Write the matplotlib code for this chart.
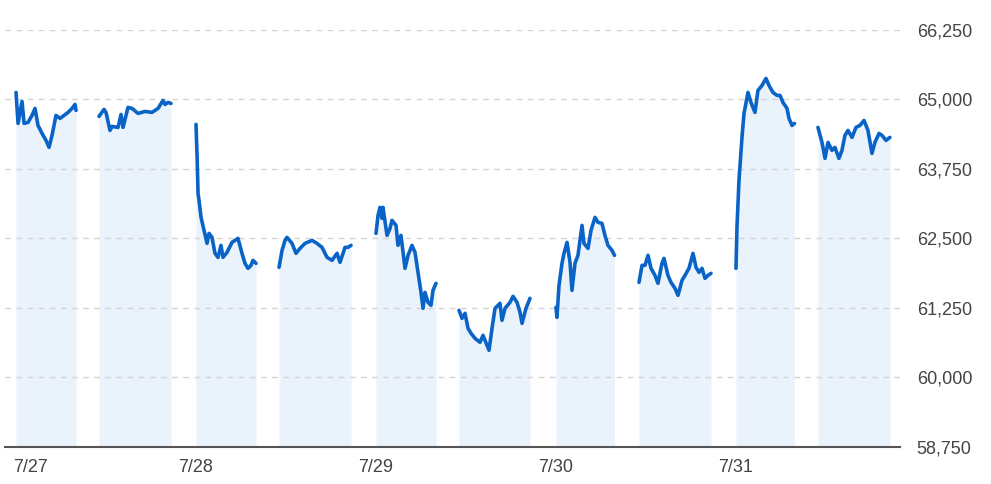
import matplotlib.pyplot as plt
import matplotlib.transforms as mtransforms

# hours after each day's open, and price, one pair of lists per session
s1_hours = [0, 0.27, 0.8, 1.07, 1.6, 2.13, 2.53, 2.93, 3.47, 4.0, 4.4, 4.8, 5.33, 5.87, 6.4, 6.93, 7.47, 7.87, 8.0]
s1_values = [65126, 64568, 64964, 64568, 64586, 64712, 64838, 64532, 64388, 64262, 64136, 64352, 64712, 64658, 64712, 64766, 64838, 64910, 64802]

s2_hours = [11.07, 11.73, 12.0, 12.53, 12.8, 13.6, 14.0, 14.27, 14.93, 15.47, 16.27, 17.2, 18.13, 18.93, 19.6, 19.87, 20.27, 20.67]
s2_values = [64694, 64820, 64766, 64442, 64514, 64496, 64730, 64496, 64856, 64838, 64748, 64784, 64766, 64838, 64982, 64910, 64946, 64928]

s3_hours = [0, 0.07, 0.13, 0.2, 0.27, 0.4, 0.67, 1.07, 1.47, 1.73, 2.13, 2.53, 2.93, 3.33, 3.6, 4.13, 4.8, 5.2, 5.6, 6.13, 6.53, 6.93, 7.33, 7.6, 8.0]
s3_values = [64550, 64262, 64028, 63686, 63308, 63182, 62876, 62642, 62408, 62588, 62516, 62228, 62156, 62372, 62156, 62246, 62426, 62462, 62498, 62228, 62048, 61958, 62012, 62102, 62048]

s4_hours = [11.07, 11.47, 11.87, 12.13, 12.8, 13.33, 13.87, 14.53, 15.47, 16.13, 16.8, 17.47, 18.13, 18.8, 19.2, 19.87, 20.27, 20.67]
s4_values = [61976, 62282, 62462, 62516, 62408, 62228, 62318, 62408, 62462, 62408, 62336, 62156, 62102, 62228, 62066, 62336, 62336, 62372]

s5_hours = [0, 0.27, 0.53, 0.8, 0.93, 1.47, 1.87, 2.13, 2.67, 2.93, 3.33, 3.87, 4.27, 4.8, 5.2, 5.6, 6.0, 6.27, 6.53, 6.93, 7.33, 7.6, 8.0]
s5_values = [62588, 62912, 63056, 62858, 63056, 62552, 62678, 62822, 62732, 62372, 62552, 61958, 62192, 62372, 62246, 61886, 61526, 61238, 61526, 61346, 61292, 61562, 61688]

s6_hours = [11.07, 11.47, 11.87, 12.27, 12.67, 13.2, 13.87, 14.27, 14.8, 15.07, 15.47, 15.87, 16.53, 16.8, 17.2, 17.87, 18.27, 18.8, 19.2, 19.47, 20.0, 20.53]
s6_values = [61202, 61058, 61148, 60878, 60788, 60698, 60626, 60752, 60572, 60482, 60878, 61238, 61328, 61022, 61238, 61346, 61454, 61346, 61166, 60968, 61238, 61418]

s7_hours = [0, 0.13, 0.4, 0.8, 1.07, 1.47, 1.87, 2.13, 2.53, 2.93, 3.47, 3.73, 4.27, 4.67, 5.2, 5.6, 6.13, 6.53, 6.93, 7.47, 7.8]
s7_values = [61256, 61076, 61652, 62048, 62228, 62426, 62066, 61562, 62048, 62192, 62732, 62408, 62318, 62642, 62876, 62786, 62768, 62552, 62372, 62282, 62192]

s8_hours = [11.07, 11.47, 11.87, 12.27, 12.67, 13.2, 13.6, 14.13, 14.4, 14.93, 15.33, 15.87, 16.27, 16.8, 17.2, 17.73, 18.27, 18.67, 19.07, 19.47, 19.87, 20.27, 20.67]
s8_values = [61706, 62012, 62012, 62192, 61958, 61832, 61688, 62048, 62138, 61832, 61706, 61598, 61472, 61742, 61832, 61958, 62228, 61976, 61886, 61958, 61778, 61832, 61868]

s9_hours = [0, 0.13, 0.4, 0.8, 1.07, 1.6, 2.0, 2.53, 2.93, 3.47, 4.0, 4.4, 4.93, 5.47, 5.87, 6.27, 6.8, 7.07, 7.47, 7.8]
s9_values = [61958, 62696, 63542, 64316, 64748, 65126, 64946, 64766, 65162, 65252, 65378, 65252, 65126, 65072, 65072, 64946, 64838, 64658, 64532, 64568]

s10_hours = [10.93, 11.47, 11.87, 12.27, 12.8, 13.2, 13.73, 14.13, 14.53, 14.93, 15.47, 16.0, 16.53, 17.07, 17.6, 18.13, 18.53, 19.07, 19.47, 20.0, 20.53]
s10_values = [64496, 64226, 63938, 64226, 64082, 64136, 63938, 64082, 64352, 64442, 64316, 64496, 64532, 64622, 64442, 64028, 64226, 64388, 64352, 64262, 64316]

day_labels = ['7/27', '7/28', '7/29', '7/30', '7/31']
session_day = [0, 0, 1, 1, 2, 2, 3, 3, 4, 4]
sessions = [(s1_hours, s1_values), (s2_hours, s2_values), (s3_hours, s3_values),
            (s4_hours, s4_values), (s5_hours, s5_values), (s6_hours, s6_values),
            (s7_hours, s7_values), (s8_hours, s8_values), (s9_hours, s9_values),
            (s10_hours, s10_values)]
y_ticks = [58750, 60000, 61250, 62500, 63750, 65000, 66250]

plt.rcParams['font.family'] = ['Liberation Sans', 'DejaVu Sans']

fig = plt.figure(figsize=(9.91, 4.84), dpi=100)
ax = fig.add_axes([5 / 991, 37.5 / 484, 895 / 991, 416.5 / 484])

bottom = y_ticks[0]
for day, (hours, values) in zip(session_day, sessions):
    t = [day * 24 + h for h in hours]
    ax.fill_between(t, values, bottom, color='#eaf2fb', linewidth=0, zorder=1)
    ax.plot(t, values, color='#0a64c8', linewidth=2.6, solid_joinstyle='round',
            solid_capstyle='round', zorder=3)

ax.set_ylim(y_ticks[0], y_ticks[-1])
ax.set_xlim(-1.47, 117.87)

ax.yaxis.tick_right()
ax.set_yticks(y_ticks)
ax.set_yticklabels([f'{v:,}' for v in y_ticks])
ax.set_xticks([d * 24 for d in range(len(day_labels))])
ax.set_xticklabels(day_labels)
ax.tick_params(axis='both', length=0, labelsize=13, colors='#444444')
ax.tick_params(axis='y', pad=12)
ax.tick_params(axis='x', pad=9)

# first date label sits inside the left edge
first = ax.get_xticklabels()[0]
first.set_horizontalalignment('left')
first.set_transform(first.get_transform() + mtransforms.ScaledTranslation(-3 / 100, 0, fig.dpi_scale_trans))

ax.grid(axis='y', color='#d4d4d4', linestyle=(0, (4, 4)), linewidth=1, zorder=0)
for side in ['top', 'left', 'right']:
    ax.spines[side].set_visible(False)
ax.spines['bottom'].set_color('#555555')
ax.spines['bottom'].set_linewidth(1.5)
ax.spines['bottom'].set_zorder(4)

fig.savefig('out.png', dpi=100)
